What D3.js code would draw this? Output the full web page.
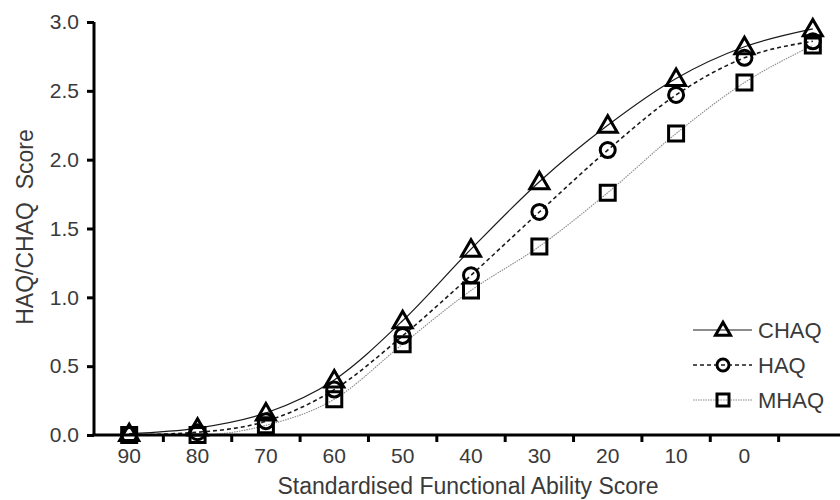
<!DOCTYPE html>
<html>
<head>
<meta charset="utf-8">
<script src="https://cdn.jsdelivr.net/npm/d3@7"></script>
<style>
  body { margin: 0; background: #fff; }
  svg { display: block; }
  text { font-family: "Liberation Sans", Arial, sans-serif; fill: #3a3a3a; }
</style>
</head>
<body>
<svg id="chart" width="840" height="500"></svg>
<script>
// ---- data ----
const categories = ["90", "80", "70", "60", "50", "40", "30", "20", "10", "0", ""];
const chaq = [0.01, 0.05, 0.16, 0.40, 0.83, 1.35, 1.84, 2.25, 2.59, 2.82, 2.95];
const haq  = [0.00, 0.02, 0.10, 0.33, 0.72, 1.16, 1.62, 2.07, 2.47, 2.74, 2.86];
const mhaq = [0.00, 0.00, 0.07, 0.26, 0.66, 1.05, 1.37, 1.76, 2.19, 2.56, 2.83];
const yTicks = [0, 0.5, 1.0, 1.5, 2.0, 2.5, 3.0];
const seriesNames = ["CHAQ", "HAQ", "MHAQ"];
const xTitle = "Standardised Functional Ability Score";
const yTitle = "HAQ/CHAQ\u00a0\u00a0Score";

// ---- layout ----
const svg = d3.select("#chart");
const x = d3.scaleBand().domain(categories).range([95, 847]).paddingInner(0).paddingOuter(0);
const y = d3.scaleLinear().domain([0, 3]).range([435, 22]);

const series = [
  { name: seriesNames[0], values: chaq, symbol: d3.symbolTriangle, dash: null, color: "#1a1a1a", width: 1.2 },
  { name: seriesNames[1], values: haq, symbol: d3.symbolCircle, dash: "4,3", color: "#1a1a1a", width: 1.6 },
  { name: seriesNames[2], values: mhaq, symbol: d3.symbolSquare, dash: "1.5,1", color: "#8a8a8a", width: 1.1 }
];

const cx = i => x(categories[i]) + x.bandwidth() / 2;

// lines
const line = d3.line().x((d, i) => cx(i)).y(d => y(d)).curve(d3.curveMonotoneX);
series.forEach(s => {
  svg.append("path")
    .attr("d", line(s.values))
    .attr("fill", "none")
    .attr("stroke", s.color)
    .attr("stroke-width", s.width)
    .attr("stroke-dasharray", s.dash);
});

// markers
function markerPath(sym, px) {
  let area;
  if (sym === d3.symbolSquare) area = px * px;
  else if (sym === d3.symbolCircle) area = Math.PI * (px / 2) * (px / 2);
  else area = px * px * Math.sqrt(3) / 4;
  return d3.symbol().type(sym).size(area)();
}
// draw order: circles, triangles, squares (squares on top)
[series[1], series[0], series[2]].forEach(s => {
  const w = s.symbol === d3.symbolTriangle ? 19 : 15;
  svg.append("g").selectAll("path")
    .data(s.values)
    .join("path")
    .attr("d", markerPath(s.symbol, w))
    .attr("transform", (d, i) => `translate(${cx(i)},${y(d) + (s.symbol === d3.symbolTriangle ? 1.5 : 0)})`)
    .attr("fill", "none")
    .attr("stroke", "#000")
    .attr("stroke-width", 3);
});

// y axis
const yAxis = d3.axisLeft(y).tickValues(yTicks).tickFormat(d3.format(".1f")).tickSize(7).tickPadding(8);
const gy = svg.append("g").attr("transform", "translate(94,0)").call(yAxis);
gy.select(".domain").attr("d", "M0,22V435").attr("stroke", "#000").attr("stroke-width", 3);
gy.selectAll(".tick line").attr("stroke", "#000").attr("stroke-width", 3);
gy.selectAll(".tick text").attr("font-size", 21).style("fill", "#3a3a3a")
  .attr("font-family", "Liberation Sans, Arial, sans-serif");

// x axis (ticks at band boundaries)
const gx = svg.append("g").attr("transform", "translate(0,435)");
gx.append("line").attr("x1", 92.5).attr("x2", 840).attr("y1", 0).attr("y2", 0)
  .attr("stroke", "#000").attr("stroke-width", 3);
gx.selectAll("line.tk")
  .data(categories.slice(1))
  .join("line")
  .attr("class", "tk")
  .attr("x1", d => x(d)).attr("x2", d => x(d))
  .attr("y1", 0).attr("y2", 7)
  .attr("stroke", "#000").attr("stroke-width", 3);
gx.selectAll("text.lbl")
  .data(categories)
  .join("text")
  .attr("class", "lbl")
  .attr("x", d => x(d) + x.bandwidth() / 2)
  .attr("y", 28)
  .attr("text-anchor", "middle")
  .attr("font-size", 21)
  .text(d => d);

// axis titles
svg.append("text")
  .attr("x", 468).attr("y", 494)
  .attr("text-anchor", "middle")
  .attr("font-size", 23)
  .text(xTitle);
svg.append("text")
  .attr("transform", "translate(33,227) rotate(-90)")
  .attr("text-anchor", "middle")
  .attr("font-size", 23)
  .text(yTitle);

// legend
const lg = svg.append("g");
series.forEach((s, i) => {
  const yy = 330 + i * 35;
  lg.append("line")
    .attr("x1", 693).attr("x2", 752).attr("y1", yy).attr("y2", yy)
    .attr("stroke", s.color).attr("stroke-width", s.width)
    .attr("stroke-dasharray", s.dash);
  const w = s.symbol === d3.symbolTriangle ? 15 : 12;
  lg.append("path")
    .attr("d", markerPath(s.symbol, w))
    .attr("transform", `translate(723,${yy + (s.symbol === d3.symbolTriangle ? 1 : 0)})`)
    .attr("fill", "none").attr("stroke", "#000").attr("stroke-width", 3);
  lg.append("text")
    .attr("x", 758).attr("y", yy + 8)
    .attr("font-size", 22)
    .text(s.name);
});
</script>
</body>
</html>
